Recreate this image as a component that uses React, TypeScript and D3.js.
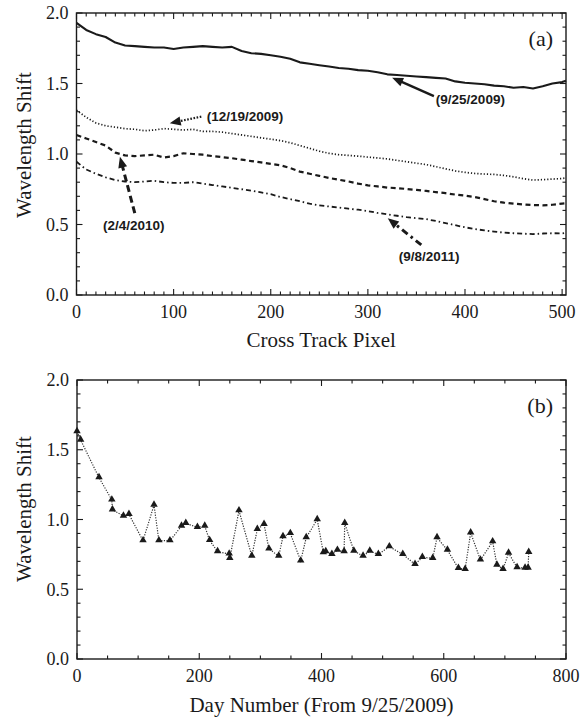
import React from "react";
import * as d3 from "d3";

// ---------- Data ----------
const pixelsA: number[] = [0,10,20,30,40,50,60,70,80,90,100,110,120,130,140,150,160,170,180,190,200,210,220,230,240,250,260,270,280,290,300,310,320,330,340,350,360,370,380,390,400,410,420,430,440,450,460,470,480,490,500,504];

const shift_20090925: number[] = [1.93,1.88,1.85,1.83,1.79,1.77,1.765,1.76,1.755,1.755,1.745,1.755,1.76,1.765,1.76,1.755,1.76,1.73,1.715,1.71,1.70,1.69,1.675,1.65,1.64,1.63,1.62,1.61,1.605,1.595,1.59,1.58,1.565,1.56,1.555,1.55,1.545,1.54,1.535,1.515,1.505,1.50,1.495,1.485,1.48,1.47,1.475,1.465,1.48,1.50,1.51,1.52];

const shift_20091219: number[] = [1.31,1.26,1.22,1.20,1.19,1.18,1.175,1.165,1.17,1.18,1.175,1.17,1.175,1.16,1.16,1.155,1.145,1.135,1.125,1.115,1.105,1.095,1.08,1.06,1.04,1.02,1.005,0.995,0.99,0.985,0.978,0.972,0.965,0.955,0.945,0.935,0.925,0.91,0.895,0.88,0.87,0.862,0.858,0.855,0.848,0.838,0.825,0.815,0.818,0.822,0.826,0.83];

const shift_20100204: number[] = [1.135,1.11,1.085,1.06,1.01,0.99,0.985,0.99,0.995,0.975,0.985,1.005,1.0,0.995,0.985,0.978,0.97,0.96,0.95,0.94,0.93,0.92,0.9,0.875,0.86,0.845,0.83,0.818,0.805,0.79,0.778,0.77,0.762,0.758,0.752,0.745,0.738,0.73,0.722,0.712,0.705,0.695,0.68,0.665,0.655,0.648,0.642,0.638,0.636,0.64,0.648,0.65];

const shift_20110908: number[] = [0.945,0.89,0.86,0.835,0.815,0.805,0.80,0.805,0.81,0.80,0.795,0.795,0.80,0.79,0.78,0.77,0.76,0.75,0.74,0.728,0.715,0.695,0.68,0.665,0.648,0.635,0.628,0.62,0.612,0.605,0.595,0.582,0.572,0.562,0.552,0.545,0.538,0.525,0.51,0.495,0.48,0.468,0.458,0.45,0.442,0.438,0.435,0.432,0.436,0.438,0.437,0.44];

const dayNumbers: number[] = [0,6,36,57,58,76,85,108,126,134,152,171,178,197,209,217,230,249,250,265,286,295,306,314,330,337,349,366,375,393,403,407,417,426,437,438,453,468,479,493,511,533,553,565,582,589,606,624,635,644,660,680,687,697,706,720,733,738,739];
const dayShifts: number[] = [1.63,1.57,1.30,1.14,1.07,1.025,1.037,0.848,1.104,0.848,0.848,0.953,0.972,0.944,0.953,0.85,0.77,0.753,0.722,1.063,0.738,0.93,0.966,0.789,0.738,0.877,0.90,0.703,0.87,1.0,0.762,0.77,0.75,0.78,0.77,0.973,0.774,0.738,0.774,0.75,0.805,0.75,0.679,0.729,0.722,0.87,0.781,0.65,0.643,0.905,0.71,0.841,0.674,0.643,0.76,0.655,0.652,0.652,0.765];

const yTickLabels: number[] = [0, 0.5, 1.0, 1.5, 2.0];
const xTickLabelsA: number[] = [0, 100, 200, 300, 400, 500];
const xTickLabelsB: number[] = [0, 200, 400, 600, 800];

const seriesA = [
  { name: "(9/25/2009)", values: shift_20090925, dash: "none", width: 2.1 },
  { name: "(12/19/2009)", values: shift_20091219, dash: "1.2,2", width: 1.7 },
  { name: "(2/4/2010)", values: shift_20100204, dash: "5,3.5", width: 2.2 },
  { name: "(9/8/2011)", values: shift_20110908, dash: "5,3,1.5,3", width: 1.8 },
];

// annotations in data coordinates: text anchor point, arrow tail, arrow head
const annotations = [
  { label: "(9/25/2009)", tx: 370, ty: 1.388, anchor: "start", x1: 368, y1: 1.41, x2: 325, y2: 1.541, dash: "none", w: 2.4 },
  { label: "(12/19/2009)", tx: 134, ty: 1.265, anchor: "start", x1: 128.5, y1: 1.265, x2: 96, y2: 1.218, dash: "1.6,1.6", w: 2.2 },
  { label: "(2/4/2010)", tx: 59, ty: 0.496, anchor: "middle", x1: 60, y1: 0.58, x2: 44.7, y2: 0.981, dash: "7,4", w: 3 },
  { label: "(9/8/2011)", tx: 363, ty: 0.277, anchor: "middle", x1: 355, y1: 0.355, x2: 320.5, y2: 0.544, dash: "7,4,2.5,4", w: 3 },
];

const SERIF = "'Liberation Serif', 'Times New Roman', serif";
const SANS = "'Liberation Sans', Arial, sans-serif";
const INK = "#1a1a1a";

type PanelProps = {
  left: number; right: number; top: number; bottom: number;
  xMax: number; xMinorStep: number; xMajor: number[];
  xTitle: string; tag: string; titleY: number; yTitleY: number;
  children: (x: d3.ScaleLinear<number, number>, y: d3.ScaleLinear<number, number>) => React.ReactNode;
};

function Panel(p: PanelProps) {
  const x = d3.scaleLinear().domain([0, p.xMax]).range([p.left, p.right]);
  const y = d3.scaleLinear().domain([0, 2]).range([p.bottom, p.top]);
  const xMinor = d3.range(0, p.xMax + 0.001, p.xMinorStep);
  const yMinor = d3.range(0, 2.0001, 0.1);
  const isMajorY = (v: number) => Math.abs(v * 2 - Math.round(v * 2)) < 1e-6;
  const isMajorX = (v: number) => p.xMajor.some((m) => Math.abs(m - v) < 1e-6);
  const major = 6, minor = 3.5;
  return (
    <g>
      {p.children(x, y)}
      <rect x={p.left} y={p.top} width={p.right - p.left} height={p.bottom - p.top} fill="none" stroke={INK} strokeWidth={1.4} />
      {xMinor.map((v, i) => {
        const L = isMajorX(v) ? major : minor;
        return (
          <g key={"xt" + i}>
            <line x1={x(v)} x2={x(v)} y1={p.bottom} y2={p.bottom - L} stroke={INK} strokeWidth={1.1} />
            <line x1={x(v)} x2={x(v)} y1={p.top} y2={p.top + L} stroke={INK} strokeWidth={1.1} />
          </g>
        );
      })}
      {yMinor.map((v, i) => {
        const L = isMajorY(v) ? major : minor;
        return (
          <g key={"yt" + i}>
            <line x1={p.left} x2={p.left + L} y1={y(v)} y2={y(v)} stroke={INK} strokeWidth={1.1} />
            <line x1={p.right} x2={p.right - L} y1={y(v)} y2={y(v)} stroke={INK} strokeWidth={1.1} />
          </g>
        );
      })}
      {yTickLabels.map((v) => (
        <text key={"yl" + v} x={p.left - 8} y={y(v)} dy="0.35em" textAnchor="end" fontFamily={SERIF} fontSize={18} fill={INK}>
          {d3.format(".1f")(v)}
        </text>
      ))}
      {p.xMajor.map((v) => (
        <text key={"xl" + v} x={x(v)} y={p.bottom + 17} dy="0.35em" textAnchor="middle" fontFamily={SERIF} fontSize={18} fill={INK}>
          {v}
        </text>
      ))}
      <text x={(p.left + p.right) / 2} y={p.titleY} dy="0.35em" textAnchor="middle" fontFamily={SERIF} fontSize={21} fill={INK}>
        {p.xTitle}
      </text>
      <text transform={`translate(31,${p.yTitleY}) rotate(-90)`} textAnchor="middle" fontFamily={SERIF} fontSize={21} fill={INK}>
        Wavelength Shift
      </text>
      <text x={p.right - 13} y={p.top + 25} dy="0.35em" textAnchor="end" fontFamily={SERIF} fontSize={22} fill={INK}>
        {p.tag}
      </text>
    </g>
  );
}

function arrowHead(x1: number, y1: number, x2: number, y2: number, len = 11, half = 4.5) {
  const a = Math.atan2(y2 - y1, x2 - x1);
  const bx = x2 - len * Math.cos(a), by = y2 - len * Math.sin(a);
  const px = -Math.sin(a) * half, py = Math.cos(a) * half;
  return `M${x2},${y2}L${bx + px},${by + py}L${bx - px},${by - py}Z`;
}

export default function App() {
  const tri = d3.symbol().type(d3.symbolTriangle).size(24)();
  return (
    <svg width={586} height={717} style={{ position: "absolute", left: 0, top: 0, background: "#fff" }}>
      <rect width={586} height={717} fill="#fff" />
      <Panel left={76.5} right={566} top={13} bottom={295} xMax={504} xMinorStep={10} xMajor={xTickLabelsA}
        xTitle="Cross Track Pixel" tag="(a)" titleY={340} yTitleY={145}>
        {(x, y) => {
          const line = d3.line<number>().x((_, i) => x(pixelsA[i])).y((d) => y(d));
          return (
            <g>
              {seriesA.map((s) => (
                <path key={s.name} d={line(s.values) || ""} fill="none" stroke={INK} strokeWidth={s.width}
                  strokeDasharray={s.dash === "none" ? undefined : s.dash} strokeLinejoin="round" />
              ))}
              {annotations.map((a) => {
                const X1 = x(a.x1), Y1 = y(a.y1), X2 = x(a.x2), Y2 = y(a.y2);
                const ang = Math.atan2(Y2 - Y1, X2 - X1);
                return (
                  <g key={a.label}>
                    <line x1={X1} y1={Y1} x2={X2 - 8 * Math.cos(ang)} y2={Y2 - 8 * Math.sin(ang)} stroke={INK} strokeWidth={a.w}
                      strokeDasharray={a.dash === "none" ? undefined : a.dash} />
                    <path d={arrowHead(X1, Y1, X2, Y2)} fill={INK} />
                    <text x={x(a.tx)} y={y(a.ty)} dy="0.35em" textAnchor={a.anchor as any} fontFamily={SANS} fontWeight="bold" fontSize={13.5} fill={INK}>
                      {a.label}
                    </text>
                  </g>
                );
              })}
            </g>
          );
        }}
      </Panel>
      <Panel left={77} right={566} top={380} bottom={659} xMax={800} xMinorStep={50} xMajor={xTickLabelsB}
        xTitle="Day Number (From 9/25/2009)" tag="(b)" titleY={705} yTitleY={509}>
        {(x, y) => {
          const line = d3.line<number>().x((d) => x(d)).y((_, i) => y(dayShifts[i]));
          return (
            <g>
              <path d={line(dayNumbers) || ""} fill="none" stroke="#333" strokeWidth={1.2} strokeDasharray="1.2,1.4" />
              {dayNumbers.map((d, i) => (
                <path key={i} d={tri || ""} transform={`translate(${x(d)},${y(dayShifts[i]) - 0.5})`} fill={INK} />
              ))}
            </g>
          );
        }}
      </Panel>
    </svg>
  );
}
